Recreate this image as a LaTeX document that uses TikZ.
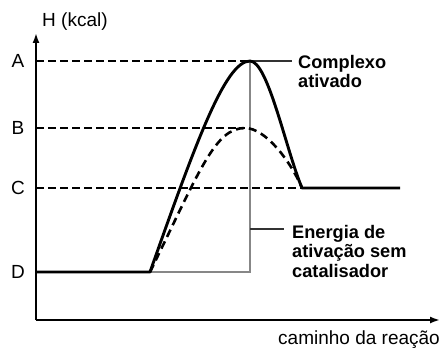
\documentclass[tikz,border=0pt]{standalone}
\usepackage{fontspec}
\setmainfont{Liberation Sans}
\usetikzlibrary{arrows.meta}
\begin{document}
\begin{tikzpicture}[x=1pt,y=-1pt,
  axis/.style={line width=1.8pt,-{Latex[length=10pt,width=7pt]}},
  lvl/.style={line width=1.8pt,dash pattern=on 8pt off 4pt},
  curveS/.style={line width=2.9pt,line join=round},
  curveD/.style={line width=2.6pt,dash pattern=on 8pt off 5pt},
  grayline/.style={line width=2.6pt,draw={rgb,255:red,135;green,135;blue,135}},
  leader/.style={line width=1.3pt,draw={rgb,255:red,50;green,50;blue,50}},
  lbl/.style={font=\fontsize{19}{20}\selectfont,inner sep=0pt},
  blbl/.style={font=\fontsize{18.2}{19.5}\selectfont\bfseries,inner sep=0pt,align=left}]
\useasboundingbox (0,0) rectangle (443,347);
% coordinates
\coordinate (O) at (36,320);
\coordinate (Ytop) at (36,33);
\coordinate (Xend) at (440,320);
\coordinate (Da) at (36,61);
\coordinate (Db) at (36,128);
\coordinate (Dc) at (36,188);
\coordinate (Dd) at (36,272);
\coordinate (S) at (150,272);
\coordinate (G) at (250,272);
\coordinate (Pa) at (250,61);
\coordinate (Pb) at (245,128);
\coordinate (E) at (302,188);
\coordinate (Eend) at (400,188);
\coordinate (La) at (292,61);
\coordinate (Gm) at (250,229);
\coordinate (Lb) at (284,229);
% axes
\draw[axis] (O) -- (Ytop);
\draw[axis] (O) -- (Xend);
% gray activation energy lines
\draw[grayline] (S) -- (G) -- (Pa);
% dashed levels
\draw[lvl] (Da) -- (Pa);
\draw[lvl] (Db) -- (Pb);
\draw[lvl] (Dc) -- (E);
% leaders
\draw[leader] (Pa) -- (La);
\draw[leader] (Gm) -- (Lb);
% curves
\draw[curveS] (Dd) -- (S) .. controls (195,145) and (225,61) .. (Pa)
  .. controls (268,61) and (286,150) .. (E) -- (Eend);
\draw[curveD] (S) .. controls (200,170) and (215,128) .. (Pb)
  .. controls (265,128) and (290,160) .. (E);
% labels
\node[lbl,anchor=base west] (H) at (42,27) {H (kcal)};
\node[lbl] (A) at (18,61) {A};
\node[lbl] (B) at (18,128) {B};
\node[lbl] (C) at (18,188) {C};
\node[lbl] (D) at (18,272) {D};
\node[blbl,anchor=north west] (cx) at (298,55) {Complexo\\ativado};
\node[blbl,anchor=north west] (en) at (292,225) {Energia de\\ativação sem\\catalisador};
\node[lbl,anchor=base east] (cam) at (440,344) {caminho da reação};
\end{tikzpicture}
\end{document}
